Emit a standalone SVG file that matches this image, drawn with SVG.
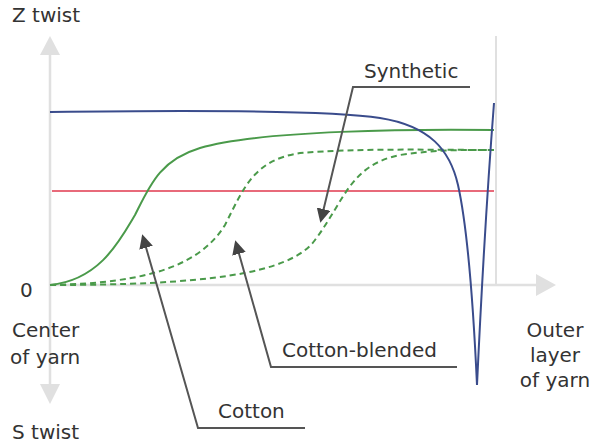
<svg xmlns="http://www.w3.org/2000/svg" width="603" height="446" viewBox="0 0 603 446">
<style>
text{font-family:"DejaVu Sans","Liberation Sans",sans-serif;font-size:20px;fill:#333}
.ax{fill:#e0e0e0}
.leader{fill:none;stroke:#555;stroke-width:2}
</style>
<defs><marker id="ar" viewBox="0 0 10 10" refX="8" refY="5" markerWidth="7" markerHeight="7" orient="auto"><path d="M0,0L10,5L0,10z" fill="#444"/></marker></defs>
<rect width="603" height="446" fill="#fff"/>
<g id="axes">
<line x1="50" y1="50" x2="50" y2="390" stroke="#e0e0e0" stroke-width="2.5"/>
<path class="ax" d="M40,55L50,36L60,55z"/>
<path class="ax" d="M40,384L50,404L60,384z"/>
<line x1="50" y1="285" x2="540" y2="285" stroke="#e0e0e0" stroke-width="2.5"/>
<path class="ax" d="M536,274L556,285L536,296z"/>
<line x1="496" y1="36" x2="496" y2="285" stroke="#e0e0e0" stroke-width="2"/>
</g>
<g id="curves" fill="none" stroke-width="2">
<line x1="52" y1="191" x2="494" y2="191" stroke="#e86a7a"/>
<path d="M50,285C100,280 120,240 135,215C150,185 160,160 200,148C260,130 420,129 494,130" stroke="#4a9a4a"/>
<path d="M50,285C150,283 200,265 225,225C245,185 255,160 300,153C360,148 440,150 494,150" stroke="#4a9a4a" stroke-dasharray="6,4"/>
<path d="M50,285C200,285 290,275 315,240C345,200 350,165 400,155C440,149 470,150 494,150" stroke="#4a9a4a" stroke-dasharray="6,4"/>
<path d="M50,112C200,110 330,110 380,118C430,126 450,150 458,185C468,230 474,320 477,385C481,300 488,180 494,103" stroke="#3a4c8c"/>
</g>
<g id="connectors">
<polyline class="leader" points="470,87 353,87 321,220" marker-end="url(#ar)"/>
<polyline class="leader" points="457,367 271,367 236,243" marker-end="url(#ar)"/>
<polyline class="leader" points="305,428 198,428 143,237" marker-end="url(#ar)"/>
</g>
<g id="labels">
<text x="364" y="78">Synthetic</text>
<text x="282" y="357">Cotton-blended</text>
<text x="218" y="418">Cotton</text>
<text x="12" y="22">Z twist</text>
<text x="20" y="297">0</text>
<text x="12" y="337">Center</text>
<text x="10" y="364">of yarn</text>
<text x="12" y="439">S twist</text>
<text x="555" y="337" text-anchor="middle">Outer</text>
<text x="555" y="362" text-anchor="middle">layer</text>
<text x="555" y="387" text-anchor="middle">of yarn</text>
</g>
</svg>
